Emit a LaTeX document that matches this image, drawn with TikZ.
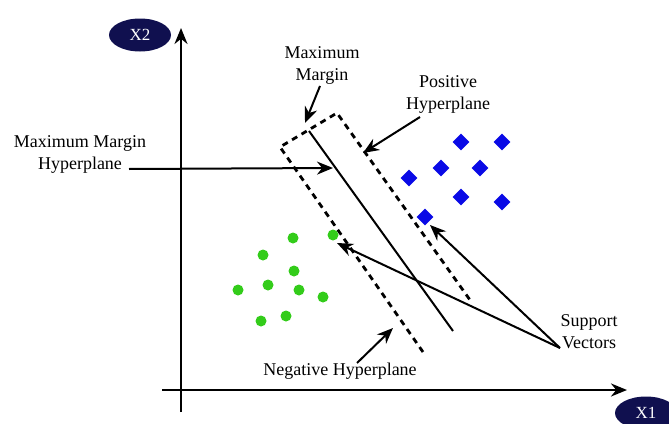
\documentclass[tikz,border=0pt]{standalone}
\usepackage{fontspec}
\setmainfont{Liberation Serif}
\usetikzlibrary{arrows.meta,shapes.geometric}
\definecolor{axisnavy}{HTML}{10104F}
\definecolor{ptgreen}{HTML}{33CC1A}
\definecolor{ptblue}{HTML}{0A0AE6}

\begin{document}
\begin{tikzpicture}[
  x=1pt, y=-1pt,
  axlbl/.style={ellipse, fill=axisnavy, text=white, minimum width=62pt, minimum height=33pt,
                inner sep=0pt, font=\fontsize{17}{19}\selectfont},
  txt/.style={align=center, inner sep=0pt, font=\fontsize{18}{22}\selectfont},
  axarr/.style={-{Stealth[length=16pt, width=13pt]}, line width=2.4pt},
  arr/.style={-{Stealth[length=16pt, width=13pt]}, line width=2pt},
  hyp/.style={line width=2pt},
  marg/.style={line width=2.8pt, dash pattern=on 6pt off 5pt},
  gdot/.style={circle, fill=ptgreen, minimum size=11pt, inner sep=0pt},
  bdia/.style={diamond, fill=ptblue, minimum size=17pt, inner sep=0pt},
]
 \useasboundingbox (0,0) rectangle (669,423);

 % Axes
 \coordinate (ybot) at (181,412);
 \coordinate (ytop) at (181,28);
 \coordinate (xleft) at (162,390);
 \coordinate (xright) at (627,390);
 \draw[axarr] (ybot) -- (ytop);
 \draw[axarr] (xleft) -- (xright);
 \node[axlbl] (X2) at (140,35) {X2};
 \node[axlbl] (X1) at (646,413) {X1};

 % Margin and hyperplane
 \coordinate (negend) at (423,352);
 \coordinate (negtop) at (280,147);
 \coordinate (postop) at (337,113);
 \coordinate (posend) at (470,300);
 \draw[marg] (negend) -- (negtop) -- (postop) -- (posend);
 \coordinate (hyptop) at (309,131);
 \coordinate (hypend) at (453,331);
 \draw[hyp] (hyptop) -- (hypend);

 % Green class
 \foreach \n/\px/\py in {1/293/238, 2/333/235, 3/263/255, 4/294/271, 5/268/285,
                         6/238/290, 7/299/290, 8/323/297, 9/261/321, 10/286/316}
   \node[gdot] (g\n) at (\px,\py) {};

 % Blue class
 \foreach \n/\px/\py in {1/461/142, 2/502/142, 3/441/168, 4/480/168,
                         5/409/178, 6/461/197, 7/502/202, 8/425/217}
   \node[bdia] (b\n) at (\px,\py) {};

 % Labels
 \node[txt] (mmh) at (80,154) {Maximum Margin\\Hyperplane};
 \node[txt] (mm) at (322,65) {Maximum\\Margin};
 \node[txt] (pos) at (448,94) {Positive\\Hyperplane};
 \node[txt, anchor=base] (neg) at (340,375) {Negative Hyperplane};
 \node[txt] (sv) at (589,332) {Support\\Vectors};

 % Label arrows
 \coordinate (mmhfrom) at (129,169);
 \coordinate (mmhto) at (333,168);
 \draw[arr] (mmhfrom) -- (mmhto);
 \coordinate (mmfrom) at (320,86);
 \coordinate (mmto) at (305,123);
 \draw[arr] (mmfrom) -- (mmto);
 \coordinate (posfrom) at (420,117);
 \coordinate (posto) at (363,153);
 \draw[arr] (posfrom) -- (posto);
 \coordinate (negfrom) at (357,363);
 \coordinate (negto) at (393,328);
 \draw[arr] (negfrom) -- (negto);
 \coordinate (svfrom) at (560,348);
 \coordinate (svg) at (337,243);
 \coordinate (svb) at (430,225);
 \draw[arr] (svfrom) -- (svg);
 \draw[arr] (svfrom) -- (svb);
\end{tikzpicture}
\end{document}
